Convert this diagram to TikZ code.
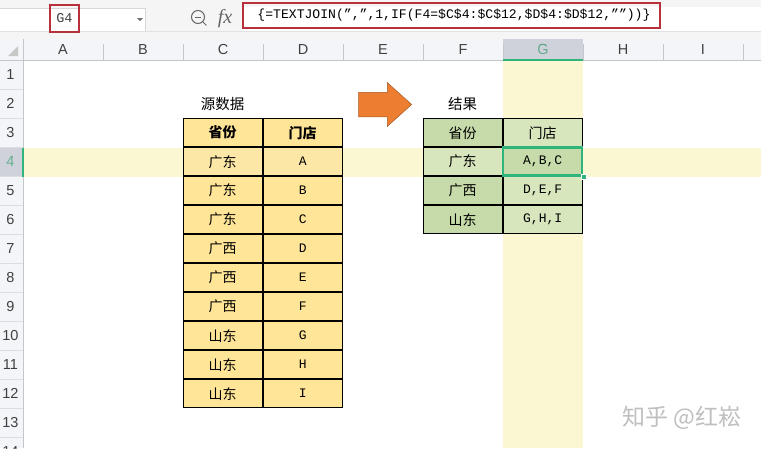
\documentclass[tikz,border=0pt]{standalone}
\usepackage{fontspec}
\setmainfont{Noto Sans CJK SC}
\newfontfamily\latinfont{Liberation Sans}
\newfontfamily\cellfont{Liberation Mono}
\newfontfamily\fxfont{Liberation Serif}
\usetikzlibrary{matrix,shapes.arrows}

\definecolor{barbg}{HTML}{F5F5F6}
\definecolor{headbg}{HTML}{F3F5F8}
\definecolor{gridln}{HTML}{C4C6CA}
\definecolor{lemon}{HTML}{FCF7D3}
\definecolor{selgrey}{HTML}{CFD2DA}
\definecolor{selgreen}{HTML}{2FB47B}
\definecolor{redbox}{HTML}{B8303C}
\definecolor{srcfill}{HTML}{FFE598}
\definecolor{srclight}{HTML}{FDE7A6}
\definecolor{resdark}{HTML}{C6DBA9}
\definecolor{reslight}{HTML}{D8E6BD}
\definecolor{arroworange}{HTML}{ED7D31}

\begin{document}
\begin{tikzpicture}[
x=1pt,y=-1pt,
net/.style={
  matrix of nodes,
  inner sep=0pt,
  anchor=north west,
  nodes={
    draw=black,
    anchor=center,
    line width=1pt,
    outer sep=0pt,
    inner sep=0pt,
    minimum width=79pt,
    minimum height=28pt,
    font=\fontsize{14}{14}\selectfont
    },
  column sep=0pt,
  row sep=0pt
  },
src/.style={fill=srcfill},
srcrow/.style={fill=srclight},
resd/.style={fill=resdark},
resl/.style={fill=reslight},
latin/.style={font=\fontsize{13}{13}\cellfont},
bold/.style={font=\fontsize{14}{14}\bfseries},
colhead/.style={font=\fontsize{14.5}{14.5}\latinfont,text=black!75,inner sep=0pt},
rowhead/.style={font=\fontsize{14.5}{14.5}\latinfont,text=black!75,inner sep=0pt},
redframe/.style={draw=redbox,line width=2pt,fill=none,inner sep=0pt}
]
\clip (0,0) rectangle (761,448);

% toolbar
\fill[barbg] (0,0) rectangle (761,39);
\fill[white] (0,8) rectangle (145,31);
\draw[gridln!70] (0,8) -- (145,8) -- (145,31) -- (0,31);
\fill[white] (243,7) rectangle (761,31);
\fill[gridln!50] (0,31) rectangle (761,32);
\fill[black!55] (137,18) -- (143,18) -- (140,21) -- cycle;
\node[circle,draw=black!60,line width=1pt,minimum size=13pt,inner sep=0pt] (zoomicon) at (198,17) {};
\draw[black!60,line width=1pt] (195,17) -- (201,17);
\draw[black!60,line width=1pt] (zoomicon.south east) -- +(3.5,3.5);
\node[text=black!60,inner sep=0pt] (fxlabel) at (225,19) {\fontsize{20}{20}\selectfont\itshape\fxfont fx};

% sheet
\fill[white] (0,39) rectangle (761,448);
\fill[headbg] (0,39) rectangle (761,60);
\fill[headbg] (0,60) rectangle (23,448);
\fill[lemon] (23,148) rectangle (761,177);
\fill[lemon] (503,60) rectangle (583,448);
\fill[selgrey] (503,39) rectangle (583,60);
\fill[selgrey] (0,148) rectangle (23,177);
\fill[black!22] (18,56) -- (18,46) -- (8,56) -- cycle;
\draw[gridln] (0,60.5) -- (761,60.5);
\draw[gridln] (23,39) -- (23,448);
\foreach \cl [count=\ci] in {A,B,C,D,E,F,G,H,I}
{
  \node[colhead] (col\cl) at (23+80*\ci-40,50) {\cl};
  \draw[gridln] (23+80*\ci,44) -- (23+80*\ci,60);
}
\node[colhead,fill=selgrey,text=selgreen!75!black!70] (colGsel) at (543,50) {G};
\fill[selgreen] (503,59) rectangle (583,61);
\foreach \rw in {1,...,14}
{
  \node[rowhead] (row\rw) at (10.5,45+29.05*\rw) {\rw};
  \draw[gridln!60] (0,60+29.05*\rw) -- (23,60+29.05*\rw);
}
\node[rowhead,fill=selgrey,text=selgreen!80!black!70] (rowsel) at (10.5,162) {4};
\fill[selgreen] (21.5,148) rectangle (23.5,177);

% titles and arrow
\node[inner sep=0pt,font=\fontsize{14.5}{14.5}\selectfont] (srctitle) at (222.5,104) {源数据};
\node[inner sep=0pt,font=\fontsize{14.5}{14.5}\selectfont] (restitle) at (462.5,104) {结果};
\node[single arrow,anchor=tip,fill=arroworange,draw=arroworange!70!black,line width=.5pt,
  minimum height=53pt,inner sep=0pt,
  single arrow head extend=9.5pt,single arrow tip angle=84] (midarrow) at (412,104.5) {\rule{0pt}{24pt}};

% source table
\matrix[net] (srctab) at (182.5,118)
{
|[src,bold]| 省份 & |[src,bold]| 门店 \\
|[srcrow]| 广东 & |[srcrow,latin]| A \\
|[src]| 广东 & |[src,latin]| B \\
|[src]| 广东 & |[src,latin]| C \\
|[src]| 广西 & |[src,latin]| D \\
|[src]| 广西 & |[src,latin]| E \\
|[src]| 广西 & |[src,latin]| F \\
|[src]| 山东 & |[src,latin]| G \\
|[src]| 山东 & |[src,latin]| H \\
|[src]| 山东 & |[src,latin]| I \\
};

% result table
\matrix[net] (restab) at (422.5,118)
{
|[resd]| 省份 & |[resl]| 门店 \\
|[resl]| 广东 & |[resd,latin]| A,B,C \\
|[resd]| 广西 & |[resl,latin]| D,E,F \\
|[resd]| 山东 & |[resl,latin]| G,H,I \\
};
\node[draw=selgreen,line width=2.5pt,inner sep=0pt,minimum width=79pt,minimum height=28pt] (selcell) at (restab-2-2) {};
\node[fill=selgreen,draw=white,line width=.5pt,minimum size=5pt,inner sep=0pt] (selhandle) at (selcell.south east) {};

% name box and formula
\node[redframe,minimum width=29pt,minimum height=27pt,font=\fontsize{13.5}{13.5}\cellfont,text=black!75] (namebox) at (64.5,18.5) {\raisebox{-1.5pt}{G4}};
\node[redframe,minimum width=417pt,minimum height=25pt,inner xsep=0pt,font=\fontsize{13.1}{13.1}\cellfont,text=black] (formula) at (451.5,15.5) {\hspace*{5pt}\raisebox{-3pt}{\{=TEXTJOIN(”,”,1,IF(F4=\$C\$4:\$C\$12,\$D\$4:\$D\$12,””))\}}};

% watermark
\node[inner sep=0pt,text=black!25,font=\fontsize{23}{23}\selectfont] (mark) at (682,418) {知乎 @红崧};
\end{tikzpicture}
\end{document}
